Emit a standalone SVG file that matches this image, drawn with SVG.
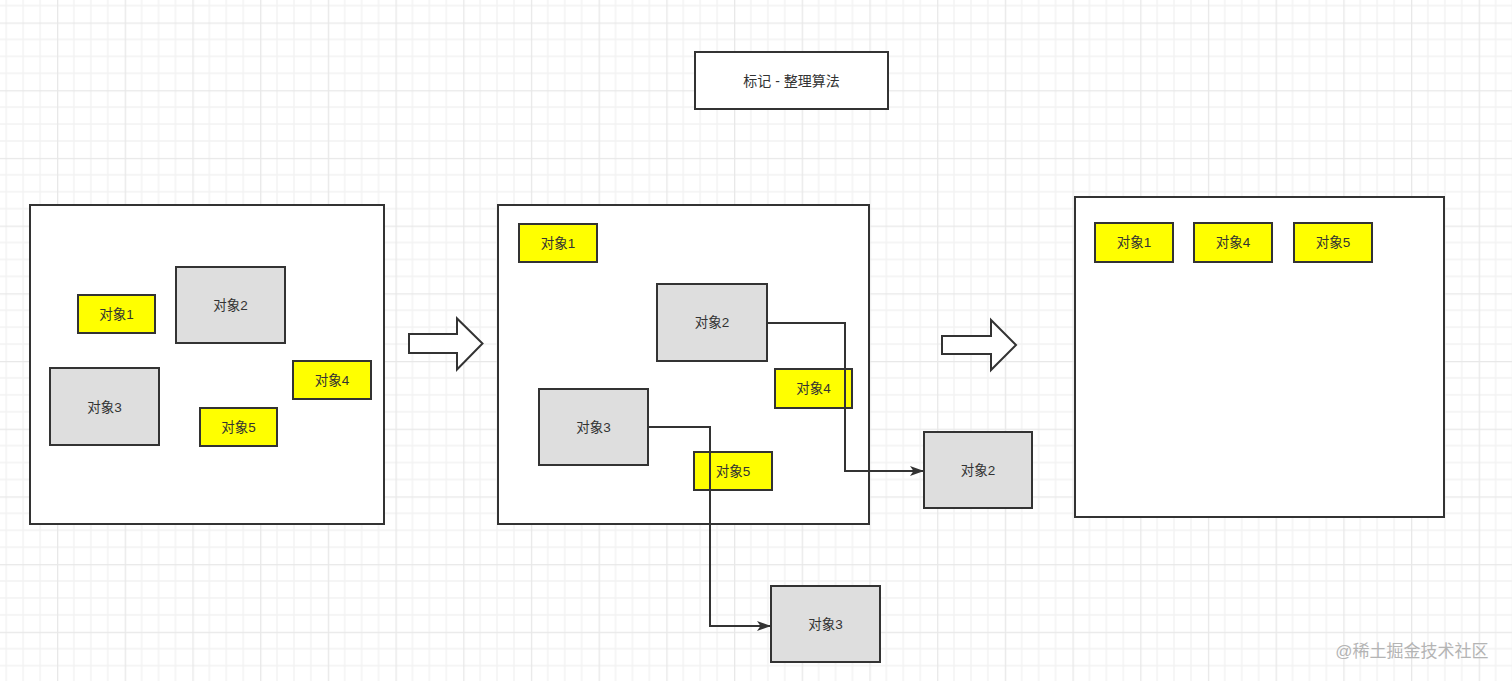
<svg xmlns="http://www.w3.org/2000/svg" width="1512" height="681" viewBox="0 0 1512 681">
<defs>
<pattern id="grid" patternUnits="userSpaceOnUse" x="57" y="22.5" width="67.7" height="67.7">
<path d="M16.925 0V67.7M33.85 0V67.7M50.775 0V67.7M0 16.925H67.7M0 33.85H67.7M0 50.775H67.7" stroke="#f2f2f2" stroke-width="1.3" fill="none"/>
<path d="M0.65 0V67.7M0 0.65H67.7" stroke="#e8e8e8" stroke-width="1.3" fill="none"/>
</pattern>
<marker id="arr" viewBox="0 0 14 10" refX="13" refY="5" markerWidth="14" markerHeight="10" markerUnits="userSpaceOnUse" orient="auto">
<path d="M0 0L14 5L0 10L3.5 5Z" fill="#333"/>
</marker>
</defs>
<style>
.box{stroke:#333;stroke-width:2;}
.cont{fill:#fff;stroke:#333;stroke-width:2;}
.y{fill:#ffff00;}
.g{fill:#dedede;}
.t{font-family:"Liberation Sans","Noto Sans CJK SC",sans-serif;font-size:13.5px;fill:#333;text-anchor:middle;dominant-baseline:central;}
.conn{fill:none;stroke:#333;stroke-width:2;}
.big{fill:#fff;stroke:#333;stroke-width:2;stroke-linejoin:miter;}
</style>
<rect width="1512" height="681" fill="#fff"/>
<rect width="1512" height="681" fill="url(#grid)"/>

<g id="title">
<rect class="cont" x="695" y="52" width="193" height="57"/>
<text class="t" x="791.5" y="80.5" style="font-size:14px">标记 - 整理算法</text>
</g>

<g id="heap1">
<rect class="cont" x="30" y="205" width="354" height="319"/>
</g>
<g id="h1-obj1"><rect class="box y" x="78" y="295" width="77" height="38"/><text class="t" x="116.5" y="314">对象1</text></g>
<g id="h1-obj2"><rect class="box g" x="176" y="267" width="109" height="76"/><text class="t" x="230.5" y="305">对象2</text></g>
<g id="h1-obj3"><rect class="box g" x="50" y="368" width="109" height="77"/><text class="t" x="104.5" y="407">对象3</text></g>
<g id="h1-obj4"><rect class="box y" x="293" y="361" width="78" height="38"/><text class="t" x="332" y="380">对象4</text></g>
<g id="h1-obj5"><rect class="box y" x="200" y="408" width="77" height="38"/><text class="t" x="238.5" y="427">对象5</text></g>

<g id="arrow1"><path class="big" d="M409 334H457V318.5L482.5 343.5L457 369.5V353H409Z"/></g>

<g id="heap2">
<rect class="cont" x="498" y="205" width="371" height="319"/>
</g>
<g id="h2-obj1"><rect class="box y" x="519" y="224" width="78" height="38"/><text class="t" x="558" y="243">对象1</text></g>
<g id="h2-obj2"><rect class="box g" x="657" y="284" width="110" height="77"/><text class="t" x="712" y="322.5">对象2</text></g>
<g id="h2-obj3"><rect class="box g" x="539" y="389" width="109" height="76"/><text class="t" x="593.5" y="427">对象3</text></g>
<g id="h2-obj4"><rect class="box y" x="775" y="369" width="77" height="39"/><text class="t" x="813.5" y="388.5">对象4</text></g>
<g id="h2-obj5"><rect class="box y" x="694" y="452" width="78" height="38"/><text class="t" x="733" y="471">对象5</text></g>

<g id="moved-obj2"><rect class="box g" x="924" y="432" width="108" height="76"/><text class="t" x="978" y="470">对象2</text></g>
<g id="moved-obj3"><rect class="box g" x="771" y="586" width="109" height="76"/><text class="t" x="825.5" y="624">对象3</text></g>

<g id="connectors">
<path class="conn" d="M767 323H845V471H923" marker-end="url(#arr)"/>
<path class="conn" d="M648 427H710V626H770" marker-end="url(#arr)"/>
</g>

<g id="arrow2"><path class="big" d="M942 336H991V320L1016 345L991 370V354H942Z"/></g>

<g id="heap3">
<rect class="cont" x="1075" y="197" width="369" height="320"/>
</g>
<g id="h3-obj1"><rect class="box y" x="1095" y="223" width="78" height="39"/><text class="t" x="1134" y="242.5">对象1</text></g>
<g id="h3-obj4"><rect class="box y" x="1194" y="223" width="78" height="39"/><text class="t" x="1233" y="242.5">对象4</text></g>
<g id="h3-obj5"><rect class="box y" x="1294" y="223" width="78" height="39"/><text class="t" x="1333" y="242.5">对象5</text></g>

<text x="1412" y="651" style="font-family:'Liberation Sans','Noto Sans CJK SC',sans-serif;font-size:17px;fill:#b4b4b4;text-anchor:middle;dominant-baseline:central">@稀土掘金技术社区</text>
</svg>
